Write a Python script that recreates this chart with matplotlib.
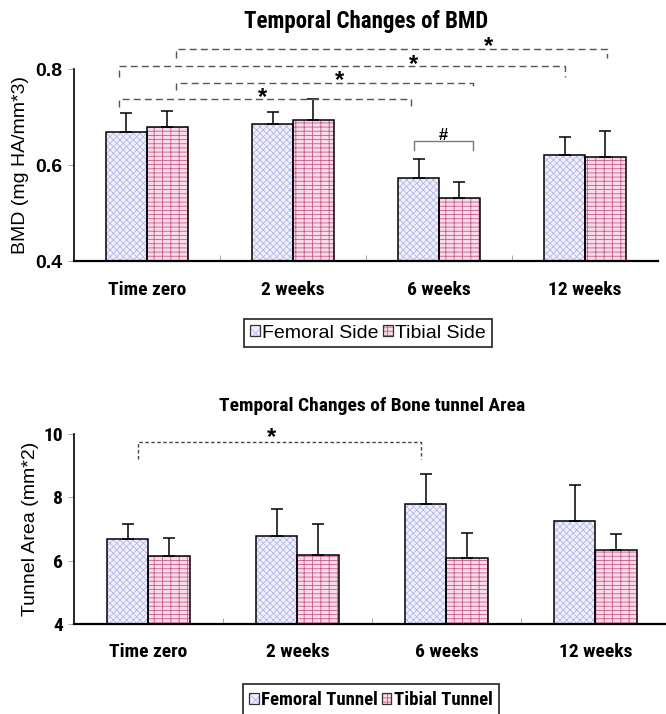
import matplotlib
matplotlib.use("Agg")
import matplotlib.pyplot as plt
import numpy as np
from matplotlib.patches import Patch
from matplotlib.legend_handler import HandlerTuple

categories = ["Time zero", "2 weeks", "6 weeks", "12 weeks"]

bmd_femoral = [0.669, 0.685, 0.573, 0.621]
bmd_femoral_err = [0.040, 0.026, 0.040, 0.037]
bmd_tibial = [0.679, 0.694, 0.531, 0.618]
bmd_tibial_err = [0.035, 0.044, 0.035, 0.054]
bmd_yticks = [0.4, 0.6, 0.8]

area_femoral = [6.69, 6.78, 7.80, 7.26]
area_femoral_err = [0.46, 0.84, 0.94, 1.12]
area_tibial = [6.16, 6.18, 6.09, 6.35]
area_tibial_err = [0.56, 0.97, 0.80, 0.50]
area_yticks = [4, 6, 8, 10]

NARROW = ["Roboto Condensed", "DejaVu Sans"]
SANS = ["Liberation Sans", "DejaVu Sans"]

plt.rcParams["hatch.linewidth"] = 0.6

FEM_FACE = "#f0f0fd"
FEM_HATCH = "#b4b6e8"
TIB_FACE = "#f7dbe8"
TIB_HATCH = "#c85a8a"
FEM_HATCH_PAT = "xxxxx"
TIB_HATCH_PAT = "--++"

fig = plt.figure(figsize=(6.66, 7.14), dpi=100)

W = 0.28


def draw_bars(ax, fem, fem_err, tib, tib_err):
    x = np.arange(len(categories))
    xf = x - W / 2
    xt = x + W / 2
    ax.bar(xf, fem, W, color=FEM_FACE, edgecolor=FEM_HATCH, hatch=FEM_HATCH_PAT, linewidth=0, zorder=2)
    ax.bar(xf, fem, W, fill=False, edgecolor="black", linewidth=1.1, zorder=3)
    ax.bar(xt, tib, W, color=TIB_FACE, edgecolor=TIB_HATCH, hatch=TIB_HATCH_PAT, linewidth=0, zorder=2)
    ax.bar(xt, tib, W, fill=False, edgecolor="black", linewidth=1.1, zorder=3)
    ax.errorbar(xf, fem, yerr=[np.zeros(len(fem)), fem_err], fmt="none", ecolor="black",
                elinewidth=1.1, capsize=4, capthick=1.1, zorder=4)
    ax.errorbar(xt, tib, yerr=[np.zeros(len(tib)), tib_err], fmt="none", ecolor="black",
                elinewidth=1.1, capsize=4, capthick=1.1, zorder=4)
    return xf, xt


def style_axes(ax, ylim, yticks, ytick_font, ytick_weight, fmt):
    ax.set_xlim(-0.5, 3.5)
    ax.set_ylim(*ylim)
    ax.spines["top"].set_visible(False)
    ax.spines["right"].set_visible(False)
    ax.spines["left"].set_linewidth(1.2)
    ax.spines["bottom"].set_linewidth(1.6)
    ax.set_yticks(yticks)
    ax.set_yticklabels([fmt.format(v) for v in yticks], fontsize=14, family=ytick_font,
                       fontweight=ytick_weight)
    ax.tick_params(axis="y", direction="out", length=4, width=0.6, color="#999999", pad=4)
    ax.set_xticks(np.arange(len(categories)))
    ax.set_xticklabels(categories, family=NARROW, fontweight="bold", fontsize=14)
    ax.tick_params(axis="x", length=0, pad=14)
    ax.set_xticks(np.arange(len(categories) - 1) + 0.5, minor=True)
    ax.tick_params(axis="x", which="minor", direction="in", length=4, width=0.6, color="#999999")


def bracket(ax, x1, x2, y, drop, text, ls, color, tsize, tdy, txf=0.45, lw=1.0):
    ax.plot([x1, x1, x2, x2], [y - drop, y, y, y - drop], ls=ls, color=color, lw=lw,
            clip_on=False, zorder=5)
    ax.text(x1 + (x2 - x1) * txf, y + tdy, text, ha="center", va="center",
            fontsize=tsize, fontweight="bold", color="black", clip_on=False, family=SANS)


def legend_handles():
    h_fem = (Patch(facecolor=FEM_FACE, edgecolor=FEM_HATCH, hatch="xxx", linewidth=0),
             Patch(fill=False, edgecolor="#333333", linewidth=0.9))
    h_tib = (Patch(facecolor=TIB_FACE, edgecolor=TIB_HATCH, hatch=TIB_HATCH_PAT, linewidth=0),
             Patch(fill=False, edgecolor="#333333", linewidth=0.9))
    return [h_fem, h_tib]


# ---------- top chart ----------
ax1 = fig.add_axes([0.111, 0.634, 0.877, 0.269])
xf, xt = draw_bars(ax1, bmd_femoral, bmd_femoral_err, bmd_tibial, bmd_tibial_err)
style_axes(ax1, (0.4, 0.8), bmd_yticks, SANS, "bold", "{:.1f}")
ax1.set_ylabel("BMD (mg HA/mm*3)", fontsize=14, family=SANS, labelpad=5)
ax1.set_title("Temporal Changes of BMD", fontsize=16.5, family=NARROW, fontweight="bold", pad=30)

dash = (0, (5, 3))
bracket(ax1, xf[0] - 0.05, xf[2] - 0.05, 0.7375, 0.016, "*", dash, "#555555", 17, 0.004, txf=0.49)
bracket(ax1, xt[0] + 0.06, xt[2] + 0.09, 0.772, 0.016, "*", dash, "#555555", 17, 0.004, txf=0.55)
bracket(ax1, xf[0] - 0.05, xf[3] + 0.0, 0.806, 0.023, "*", dash, "#555555", 17, 0.004, txf=0.66)
bracket(ax1, xt[0] + 0.06, xt[3] + 0.01, 0.842, 0.018, "*", dash, "#555555", 17, 0.006, txf=0.725)
bracket(ax1, xf[2] - 0.03, xt[2] + 0.09, 0.651, 0.02, "#", "-", "#777777", 12, 0.011, txf=0.5)

leg1 = fig.legend(legend_handles(), ["Femoral Side", "Tibial Side"],
                  handler_map={tuple: HandlerTuple(ndivide=1)},
                  loc="center", bbox_to_anchor=(368 / 666, 1 - 333 / 714), ncol=2,
                  frameon=True, fancybox=False, edgecolor="black",
                  handlelength=0.5, handleheight=0.5, handletextpad=0.15, columnspacing=0.2,
                  borderpad=0.3, borderaxespad=0, prop={"family": SANS, "size": 14})
leg1.get_frame().set_linewidth(1.3)

# ---------- bottom chart ----------
ax2 = fig.add_axes([0.111, 0.126, 0.895, 0.266])
xf2, xt2 = draw_bars(ax2, area_femoral, area_femoral_err, area_tibial, area_tibial_err)
style_axes(ax2, (4, 10), area_yticks, NARROW, "bold", "{:g}")
ax2.set_ylabel("Tunnel Area (mm*2)", fontsize=14, family=SANS, labelpad=3)
ax2.set_title("Temporal Changes of Bone tunnel Area", fontsize=14, family=NARROW,
              fontweight="bold", pad=17)

bracket(ax2, xf2[0] + 0.07, xf2[2] - 0.03, 9.76, 0.55, "*", (0, (2.5, 1.8)), "#444444", 17, 0.12,
        txf=0.47, lw=1.0)

leg2 = fig.legend(legend_handles(), ["Femoral Tunnel", "Tibial Tunnel"],
                  handler_map={tuple: HandlerTuple(ndivide=1)},
                  loc="center", bbox_to_anchor=(371 / 666, 1 - 700 / 714), ncol=2,
                  frameon=True, fancybox=False, edgecolor="black",
                  handlelength=0.5, handleheight=0.5, handletextpad=0.15, columnspacing=0.2,
                  borderpad=0.35, borderaxespad=0,
                  prop={"family": NARROW, "size": 13.5, "weight": "bold"})
leg2.get_frame().set_linewidth(1.3)

fig.savefig("out.png", dpi=100)
